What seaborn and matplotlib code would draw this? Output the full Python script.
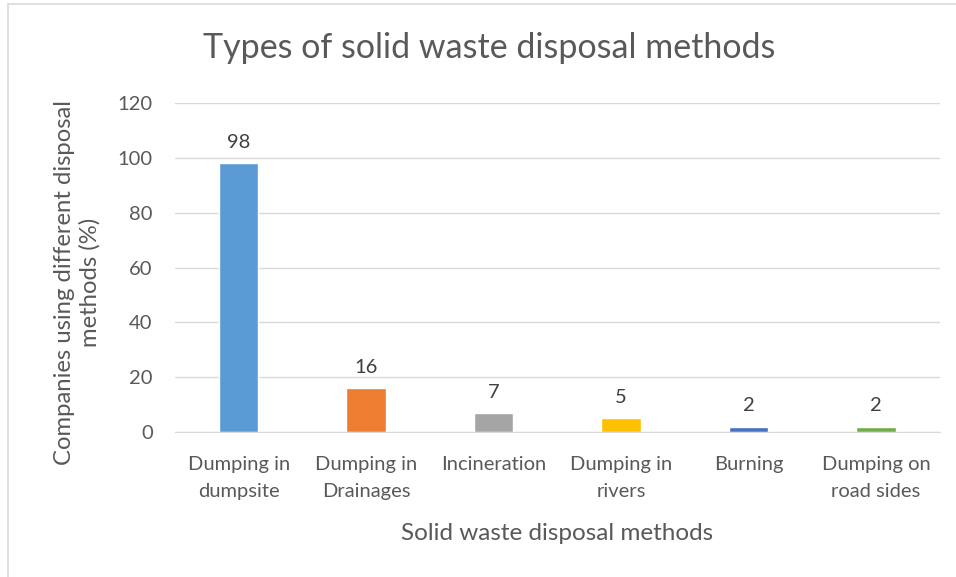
import matplotlib
matplotlib.use("Agg")
import matplotlib.pyplot as plt
import seaborn as sns
import pandas as pd
from matplotlib.patches import Rectangle

methods = ["Dumping in\ndumpsite", "Dumping in\nDrainages", "Incineration",
           "Dumping in\nrivers", "Burning", "Dumping on\nroad sides"]
percent = [98, 16, 7, 5, 2, 2]
colors = ["#5B9BD5", "#ED7D31", "#A5A5A5", "#FFC000", "#4472C4", "#70AD47"]
y_ticks = [0, 20, 40, 60, 80, 100, 120]

df = pd.DataFrame({"method": methods, "percent": percent})

sns.set_style("white")
plt.rcParams["font.family"] = ["Lato", "DejaVu Sans"]
txt = "#595959"

fig = plt.figure(figsize=(9.56, 5.77), dpi=100)
ax = fig.add_axes([0.183, 0.251, 0.8, 0.5705])

sns.barplot(data=df, x="method", y="percent", hue="method", palette=colors,
            legend=False, width=0.31, saturation=1, ax=ax)

for i, v in enumerate(percent):
    ax.text(i, v + 4.5, str(v), ha="center", va="bottom", fontsize=14.5, color="#404040")

ax.set_ylim(0, 120)
ax.set_yticks(y_ticks)
ax.set_xlim(-0.5, len(methods) - 0.5)
ax.yaxis.grid(True, color="#D9D9D9", linewidth=1)
ax.set_axisbelow(True)
for s in ["top", "right", "left"]:
    ax.spines[s].set_visible(False)
ax.spines["bottom"].set_color("#D9D9D9")
ax.tick_params(axis="both", length=0, labelsize=14.5, colors=txt)
ax.tick_params(axis="y", pad=16)
ax.tick_params(axis="x", pad=17.5)
for lab in ax.get_xticklabels():
    lab.set_linespacing(1.65)

ax.set_xlabel("Solid waste disposal methods", fontsize=17.5, color=txt, labelpad=17)
ax.set_ylabel("Companies using different disposal\nmethods (%)", fontsize=17.2,
              color=txt, labelpad=12, linespacing=1.25)
ax.yaxis.label.set_y(0.455)
fig.text(0.512, 0.917, "Types of solid waste disposal methods", ha="center",
         va="center", fontsize=24.5, color=txt)

fig.patches.append(Rectangle((8 / 956, -0.01), 1.0, 1 - 4 / 577 + 0.01,
                             transform=fig.transFigure, fill=False,
                             edgecolor="#D9D9D9", linewidth=1.2))

fig.savefig("out.png", dpi=100)
